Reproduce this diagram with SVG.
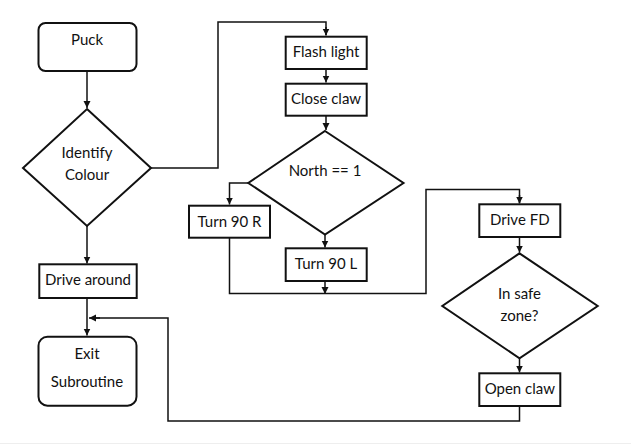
<svg xmlns="http://www.w3.org/2000/svg" width="631" height="445" viewBox="0 0 631 445">
<defs>
<marker id="ah" markerWidth="8" markerHeight="8" refX="7" refY="4" orient="auto" markerUnits="userSpaceOnUse">
<path d="M0,0.5 L7,4 L0,7.5 Z" fill="#111"/>
</marker>
<style>
.n{fill:#fff;stroke:#111;stroke-width:2}
.t{font-family:Lato,"Liberation Sans",sans-serif;font-size:15px;fill:#111;text-anchor:middle}
.c{fill:none;stroke:#111;stroke-width:1.5}
.a{marker-end:url(#ah)}
</style>
</defs>
<rect width="631" height="445" fill="#fff"/>
<line x1="0" y1="443.5" x2="631" y2="443.5" stroke="#eee" stroke-width="1"/>
<g id="connectors">
<path class="c a" d="M87,71 V108"/>
<path class="c" d="M151,168 H218 V22 H326 V35"/>
<path class="c a" d="M326,27 V35.5"/>
<path class="c a" d="M326,69 V82.5"/>
<path class="c a" d="M326,116 V130"/>
<path class="c a" d="M248,183 H229.5 V204.5"/>
<path class="c a" d="M325,234 V247.5"/>
<path class="c a" d="M325,281 V294"/>
<path class="c" d="M229.5,238 V293.5 H426 V189.5 H519.5 V203"/>
<path class="c a" d="M519.5,195 V203.5"/>
<path class="c a" d="M519.5,237 V252.5"/>
<path class="c a" d="M519.5,358 V372.5"/>
<path class="c" d="M519.5,406 V421 H168 V318 H94"/>
<path class="c a" d="M100,318 H89"/>
<path class="c a" d="M87,226 V263.5"/>
<path class="c a" d="M87,298 V335.5"/>
</g>
<g id="puck"><rect class="n" x="38.5" y="23" width="98" height="48" rx="7"/><text class="t" x="87" y="44.5">Puck</text></g>
<g id="identify"><polygon class="n" points="87,109 151,168 87,226 23,168"/><text class="t" x="87" y="157.5">Identify</text><text class="t" x="87" y="180">Colour</text></g>
<g id="flash"><rect class="n" x="285.7" y="36.7" width="81" height="32.3"/><text class="t" x="326" y="57">Flash light</text></g>
<g id="close"><rect class="n" x="285.7" y="83.7" width="81" height="32"/><text class="t" x="326" y="104">Close claw</text></g>
<g id="north"><polygon class="n" points="325,131 403.5,183 325,234.5 248.3,183"/><text class="t" x="325" y="176">North == 1</text></g>
<g id="turnR"><rect class="n" x="189" y="205.7" width="81" height="32"/><text class="t" x="229.5" y="226.5">Turn 90 R</text></g>
<g id="turnL"><rect class="n" x="285.7" y="248.3" width="81" height="32.7"/><text class="t" x="326" y="268.5">Turn 90 L</text></g>
<g id="driveFD"><rect class="n" x="479.3" y="204.3" width="81" height="32.7"/><text class="t" x="519.8" y="224.5">Drive FD</text></g>
<g id="safe"><polygon class="n" points="519.5,253.3 597.7,306 519.5,358.3 442.3,306"/><text class="t" x="519.5" y="298.5">In safe</text><text class="t" x="519.5" y="321">zone?</text></g>
<g id="open"><rect class="n" x="479.3" y="373.3" width="81" height="32.7"/><text class="t" x="519.8" y="393.5">Open claw</text></g>
<g id="drivearound"><rect class="n" x="39.3" y="264.3" width="97.4" height="33.7"/><text class="t" x="88" y="284.5">Drive around</text></g>
<g id="exit"><rect class="n" x="38.5" y="336.7" width="98" height="69" rx="9"/><text class="t" x="87" y="358.5">Exit</text><text class="t" x="87" y="387">Subroutine</text></g>
</svg>
